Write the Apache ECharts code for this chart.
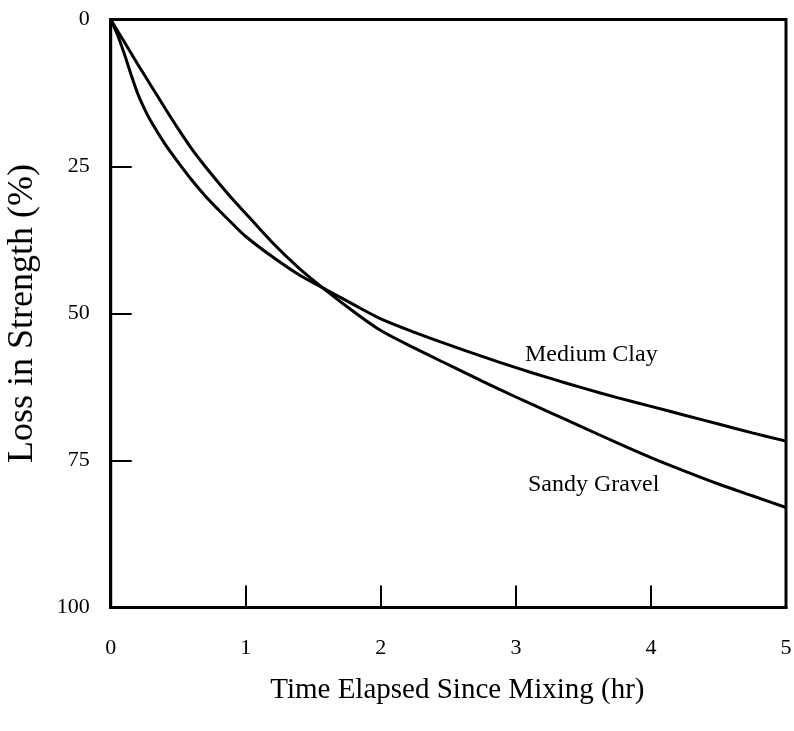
<!DOCTYPE html>
<html>
<head>
<meta charset="utf-8">
<script src="https://cdn.jsdelivr.net/npm/echarts@6/dist/echarts.min.js"></script>
<style>
html,body{margin:0;padding:0;background:#fff;}
#c{width:794px;height:731px;}
</style>
</head>
<body>
<div id="c"></div>
<script>
var xTicks = [0, 1, 2, 3, 4, 5];
var yTicks = [0, 25, 50, 75, 100];
var mediumClayX = [0, 0.05, 0.1, 0.15, 0.2, 0.25, 0.3, 0.4, 0.5, 0.6, 0.7, 0.8, 0.9, 1.0, 1.2, 1.4, 1.6, 1.8, 2.0, 2.25, 2.5, 2.75, 3.0, 3.25, 3.5, 3.75, 4.0, 4.25, 4.5, 4.75, 5.0];
var mediumClayY = [0, 2.6, 5.8, 9.3, 12.6, 15.2, 17.4, 21.1, 24.3, 27.3, 30.0, 32.4, 34.7, 36.9, 40.4, 43.5, 46.0, 48.5, 50.9, 53.2, 55.3, 57.3, 59.2, 61.0, 62.7, 64.3, 65.8, 67.3, 68.8, 70.3, 71.7];
var sandyGravelX = [0, 0.1, 0.2, 0.3, 0.4, 0.5, 0.6, 0.7, 0.8, 0.9, 1.0, 1.2, 1.4, 1.6, 1.8, 2.0, 2.25, 2.5, 2.75, 3.0, 3.25, 3.5, 3.75, 4.0, 4.25, 4.5, 4.75, 5.0];
var sandyGravelY = [0, 3.8, 7.6, 11.3, 15.0, 18.6, 22.0, 25.0, 27.8, 30.5, 33.0, 38.0, 42.4, 46.2, 49.7, 52.9, 55.9, 58.7, 61.5, 64.2, 66.8, 69.4, 72.0, 74.5, 76.8, 79.0, 81.0, 83.0];
var seriesNames = ['Medium Clay', 'Sandy Gravel'];

function pairs(xs, ys) { return xs.map(function (x, i) { return [x, ys[i]]; }); }

var FONT = '"Liberation Serif", "Times New Roman", serif';
var chart = echarts.init(document.getElementById('c'), null, {renderer: 'canvas'});
chart.setOption({
  animation: false,
  backgroundColor: '#fff',
  grid: {left: 110.7, right: 8, top: 19.5, bottom: 123.5, containLabel: false, outerBoundsMode: 'none', show: true, borderColor: '#000', borderWidth: 3, backgroundColor: 'transparent'},
  xAxis: {
    type: 'value', min: xTicks[0], max: xTicks[xTicks.length - 1], interval: 1,
    name: 'Time Elapsed Since Mixing (hr)', nameLocation: 'middle', nameGap: 68,
    nameTextStyle: {fontFamily: FONT, fontSize: 29, color: '#000', padding: [0, 0, 0, 18]},
    axisLine: {show: true, onZero: false, lineStyle: {color: '#000', width: 3}},
    axisTick: {show: true, inside: true, length: 22, lineStyle: {color: '#000', width: 2}},
    axisLabel: {margin: 30, fontFamily: FONT, fontSize: 22, color: '#000'},
    splitLine: {show: false}
  },
  yAxis: {
    type: 'value', inverse: true, min: yTicks[0], max: yTicks[yTicks.length - 1], interval: 25,
    name: 'Loss in Strength (%)', nameLocation: 'middle', nameGap: 70, nameRotate: 90,
    nameTextStyle: {fontFamily: FONT, fontSize: 36, color: '#000'},
    axisLine: {show: true, onZero: false, lineStyle: {color: '#000', width: 3}},
    axisTick: {show: true, inside: true, length: 21, lineStyle: {color: '#000', width: 2}},
    axisLabel: {margin: 21, fontFamily: FONT, fontSize: 22, color: '#000'},
    splitLine: {show: false}
  },
  series: [
    {name: seriesNames[0], type: 'line', data: pairs(mediumClayX, mediumClayY), smooth: 0.3, showSymbol: false, symbol: 'none', lineStyle: {color: '#000', width: 3}},
    {name: seriesNames[1], type: 'line', data: pairs(sandyGravelX, sandyGravelY), smooth: 0.3, showSymbol: false, symbol: 'none', lineStyle: {color: '#000', width: 3}}
  ],
  graphic: [
    {type: 'text', left: 525, top: 343, style: {text: seriesNames[0], font: '24px ' + FONT, fill: '#000'}},
    {type: 'text', left: 528, top: 473, style: {text: seriesNames[1], font: '24px ' + FONT, fill: '#000'}}
  ]
});
</script>
</body>
</html>
